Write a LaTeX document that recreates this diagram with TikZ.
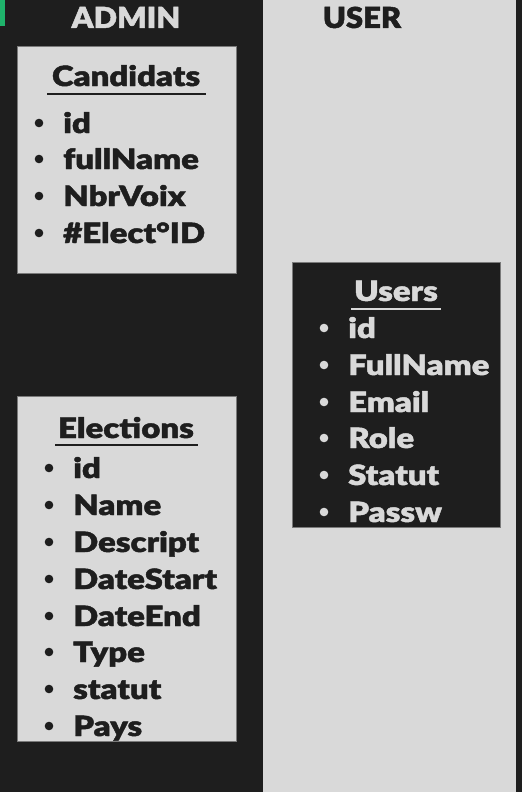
\documentclass[tikz,border=0pt]{standalone}
\usepackage{fontspec}
\newfontfamily\heavy{Lato Black}[FakeBold=1.6,FakeStretch=1.18]
\newfontfamily\heavycap{Lato Black}[FakeBold=1.6,FakeStretch=1.07]
\definecolor{bgdark}{HTML}{1E1E1E}
\definecolor{panel}{HTML}{D9D9D9}
\definecolor{edge}{HTML}{7A7A7A}
\definecolor{greenmark}{HTML}{1FB36B}
\tikzset{
  x=1bp,y=-1bp,
  txt/.style={inner sep=0pt,anchor=base west,font=\heavy\fontsize{28}{30}\selectfont},
  title/.style={inner sep=0pt,anchor=base,font=\heavy\fontsize{28}{30}\selectfont},
  head/.style={inner sep=0pt,anchor=base,font=\heavycap\fontsize{29}{30}\selectfont},
  tbox/.style={draw=edge,line width=0.8bp},
}
\begin{document}
\begin{tikzpicture}
\fill[bgdark] (0,0) rectangle (522,792);
\useasboundingbox (0,0) rectangle (522,792);
\fill[greenmark] (0,0) rectangle (5,26);
\fill[panel] (263,0) rectangle (516,792);
\node[head,text=panel] (admin) at (126,28) {ADMIN};
\node[head,text=bgdark] (user) at (362,28) {USER};
% Candidats
\draw[tbox,fill=panel] (17,46) rectangle (236,273);
\node[title,text=bgdark] (cand) at (126,86) {Candidats};
\draw[bgdark,line width=2bp] (47,94) -- (206,94);
\foreach \t/\yy in {id/133,fullName/169,NbrVoix/206,\#Elect°ID/243}{
  \fill[bgdark] (39,\yy-10) circle (4.3);
  \node[txt,text=bgdark] at (63,\yy) {\t};
}
% Elections
\draw[tbox,fill=panel] (17,396) rectangle (236,741);
\node[title,text=bgdark] (elec) at (126,438) {Elections};
\draw[bgdark,line width=2bp] (55,445) -- (198,445);
\foreach \t/\yy in {id/478,Name/515,Descript/552,DateStart/589,DateEnd/626,Type/662,statut/699,Pays/736}{
  \fill[bgdark] (49,\yy-10) circle (4.3);
  \node[txt,text=bgdark] at (73,\yy) {\t};
}
% Users
\draw[tbox,fill=bgdark] (292,262) rectangle (500,527);
\node[title,text=panel] (users) at (396,301) {Users};
\draw[panel,line width=2bp] (351,309) -- (441,309);
\foreach \t/\yy in {id/338,FullName/375,Email/412,Role/448,Statut/485,Passw/522}{
  \fill[panel] (324,\yy-10) circle (4.3);
  \node[txt,text=panel] at (348,\yy) {\t};
}
\end{tikzpicture}
\end{document}
